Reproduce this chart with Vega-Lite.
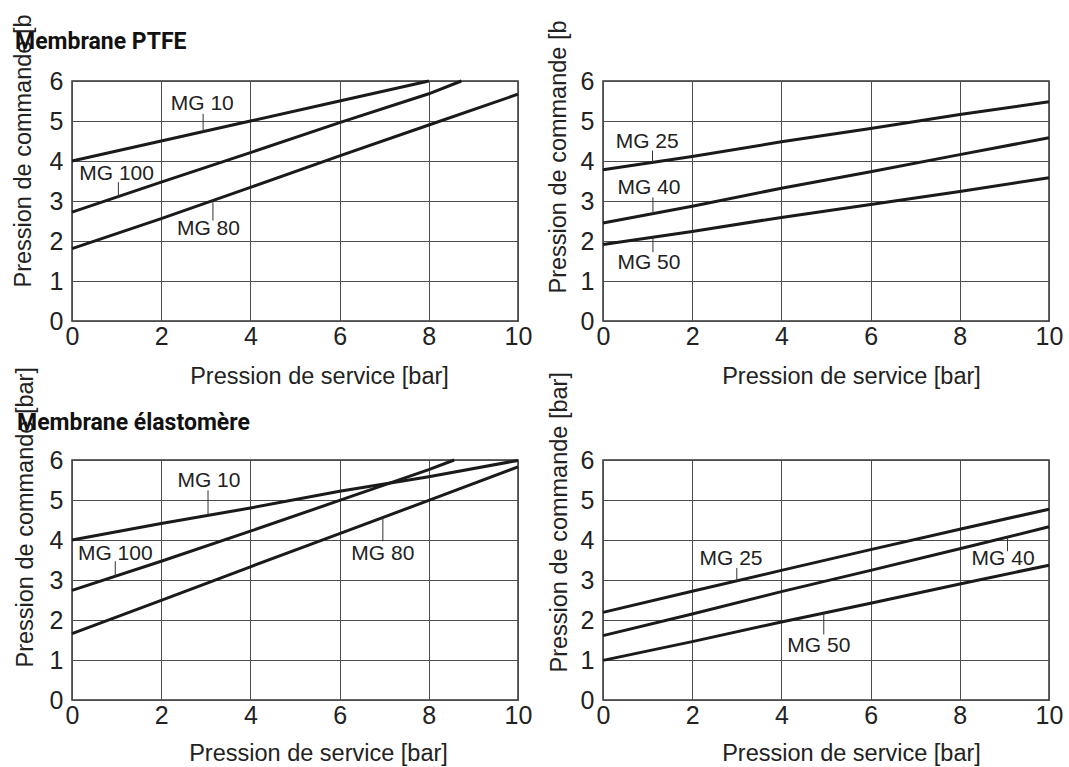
{
  "$schema": "https://vega.github.io/schema/vega-lite/v6.json",
  "background": "white",
  "padding": {"left": 10, "top": 6, "right": 5, "bottom": 2},
  "config": {
    "view": {"stroke": "#333", "strokeWidth": 1.5},
    "style": {"guide-title": {"ellipsis": " "}},
    "axis": {
      "domain": false, "ticks": false, "grid": true,
      "gridColor": "#4d4d4d", "gridWidth": 1, "gridOpacity": 1,
      "labelFont": "Liberation Sans", "labelFontSize": 25, "labelColor": "#222",
      "titleFont": "Liberation Sans", "titleFontSize": 23.5, "titleFontWeight": "normal", "titleColor": "#222",
      "labelFlush": false, "labelOverlap": false, "labelBound": false
    },
    "axisX": {"labelPadding": 3, "titleBaseline": "alphabetic", "titleAlign": "center"},
    "axisY": {"labelPadding": 9, "titleAlign": "left", "titleBaseline": "alphabetic", "titleAngle": -90}
  },
  "datasets": {
    "curves": [
      {"panel": "P1", "series": "MG 10", "x": 0, "y": 4.0},
      {"panel": "P1", "series": "MG 10", "x": 2, "y": 4.5},
      {"panel": "P1", "series": "MG 10", "x": 4, "y": 5.0},
      {"panel": "P1", "series": "MG 10", "x": 6, "y": 5.5},
      {"panel": "P1", "series": "MG 10", "x": 8, "y": 6.0},
      {"panel": "P1", "series": "MG 100", "x": 0, "y": 2.72},
      {"panel": "P1", "series": "MG 100", "x": 2, "y": 3.47},
      {"panel": "P1", "series": "MG 100", "x": 4, "y": 4.21},
      {"panel": "P1", "series": "MG 100", "x": 6, "y": 4.96},
      {"panel": "P1", "series": "MG 100", "x": 8, "y": 5.68},
      {"panel": "P1", "series": "MG 100", "x": 8.73, "y": 6.0},
      {"panel": "P1", "series": "MG 80", "x": 0, "y": 1.81},
      {"panel": "P1", "series": "MG 80", "x": 2, "y": 2.56},
      {"panel": "P1", "series": "MG 80", "x": 4, "y": 3.34},
      {"panel": "P1", "series": "MG 80", "x": 6, "y": 4.13},
      {"panel": "P1", "series": "MG 80", "x": 8, "y": 4.90},
      {"panel": "P1", "series": "MG 80", "x": 10, "y": 5.67},
      {"panel": "P2", "series": "MG 25", "x": 0, "y": 3.78},
      {"panel": "P2", "series": "MG 25", "x": 2, "y": 4.11},
      {"panel": "P2", "series": "MG 25", "x": 4, "y": 4.48},
      {"panel": "P2", "series": "MG 25", "x": 6, "y": 4.81},
      {"panel": "P2", "series": "MG 25", "x": 8, "y": 5.16},
      {"panel": "P2", "series": "MG 25", "x": 10, "y": 5.48},
      {"panel": "P2", "series": "MG 40", "x": 0, "y": 2.45},
      {"panel": "P2", "series": "MG 40", "x": 2, "y": 2.87},
      {"panel": "P2", "series": "MG 40", "x": 4, "y": 3.32},
      {"panel": "P2", "series": "MG 40", "x": 6, "y": 3.73},
      {"panel": "P2", "series": "MG 40", "x": 8, "y": 4.16},
      {"panel": "P2", "series": "MG 40", "x": 10, "y": 4.58},
      {"panel": "P2", "series": "MG 50", "x": 0, "y": 1.91},
      {"panel": "P2", "series": "MG 50", "x": 2, "y": 2.24},
      {"panel": "P2", "series": "MG 50", "x": 4, "y": 2.59},
      {"panel": "P2", "series": "MG 50", "x": 6, "y": 2.91},
      {"panel": "P2", "series": "MG 50", "x": 8, "y": 3.24},
      {"panel": "P2", "series": "MG 50", "x": 10, "y": 3.58},
      {"panel": "P3", "series": "MG 10", "x": 0, "y": 4.0},
      {"panel": "P3", "series": "MG 10", "x": 2, "y": 4.41},
      {"panel": "P3", "series": "MG 10", "x": 4, "y": 4.80},
      {"panel": "P3", "series": "MG 10", "x": 6, "y": 5.22},
      {"panel": "P3", "series": "MG 10", "x": 8, "y": 5.58},
      {"panel": "P3", "series": "MG 10", "x": 10, "y": 5.99},
      {"panel": "P3", "series": "MG 100", "x": 0, "y": 2.74},
      {"panel": "P3", "series": "MG 100", "x": 2, "y": 3.47},
      {"panel": "P3", "series": "MG 100", "x": 4, "y": 4.22},
      {"panel": "P3", "series": "MG 100", "x": 6, "y": 4.99},
      {"panel": "P3", "series": "MG 100", "x": 8, "y": 5.76},
      {"panel": "P3", "series": "MG 100", "x": 8.57, "y": 6.0},
      {"panel": "P3", "series": "MG 80", "x": 0, "y": 1.66},
      {"panel": "P3", "series": "MG 80", "x": 2, "y": 2.49},
      {"panel": "P3", "series": "MG 80", "x": 4, "y": 3.33},
      {"panel": "P3", "series": "MG 80", "x": 6, "y": 4.16},
      {"panel": "P3", "series": "MG 80", "x": 8, "y": 4.99},
      {"panel": "P3", "series": "MG 80", "x": 10, "y": 5.83},
      {"panel": "P4", "series": "MG 25", "x": 0, "y": 2.19},
      {"panel": "P4", "series": "MG 25", "x": 2, "y": 2.72},
      {"panel": "P4", "series": "MG 25", "x": 4, "y": 3.24},
      {"panel": "P4", "series": "MG 25", "x": 6, "y": 3.76},
      {"panel": "P4", "series": "MG 25", "x": 8, "y": 4.27},
      {"panel": "P4", "series": "MG 25", "x": 10, "y": 4.77},
      {"panel": "P4", "series": "MG 40", "x": 0, "y": 1.61},
      {"panel": "P4", "series": "MG 40", "x": 2, "y": 2.15},
      {"panel": "P4", "series": "MG 40", "x": 4, "y": 2.71},
      {"panel": "P4", "series": "MG 40", "x": 6, "y": 3.24},
      {"panel": "P4", "series": "MG 40", "x": 8, "y": 3.78},
      {"panel": "P4", "series": "MG 40", "x": 10, "y": 4.33},
      {"panel": "P4", "series": "MG 50", "x": 0, "y": 0.99},
      {"panel": "P4", "series": "MG 50", "x": 2, "y": 1.46},
      {"panel": "P4", "series": "MG 50", "x": 4, "y": 1.95},
      {"panel": "P4", "series": "MG 50", "x": 6, "y": 2.42},
      {"panel": "P4", "series": "MG 50", "x": 8, "y": 2.90},
      {"panel": "P4", "series": "MG 50", "x": 10, "y": 3.37}
    ],
    "leaders": [
      {"panel": "P1", "series": "MG 10", "x": 2.94, "y": 4.73, "y2": 5.18},
      {"panel": "P1", "series": "MG 100", "x": 1.04, "y": 3.1, "y2": 3.47},
      {"panel": "P1", "series": "MG 80", "x": 3.16, "y": 2.51, "y2": 3.04},
      {"panel": "P2", "series": "MG 25", "x": 1.11, "y": 3.97, "y2": 4.26},
      {"panel": "P2", "series": "MG 40", "x": 1.12, "y": 2.69, "y2": 3.09},
      {"panel": "P2", "series": "MG 50", "x": 1.12, "y": 1.72, "y2": 2.09},
      {"panel": "P3", "series": "MG 10", "x": 3.05, "y": 4.62, "y2": 5.24},
      {"panel": "P3", "series": "MG 100", "x": 0.97, "y": 3.09, "y2": 3.47},
      {"panel": "P3", "series": "MG 80", "x": 6.97, "y": 3.97, "y2": 4.56},
      {"panel": "P4", "series": "MG 25", "x": 3.0, "y": 2.98, "y2": 3.30},
      {"panel": "P4", "series": "MG 40", "x": 9.07, "y": 3.72, "y2": 4.07},
      {"panel": "P4", "series": "MG 50", "x": 4.95, "y": 1.64, "y2": 2.17}
    ],
    "labels": [
      {"panel": "P1", "series": "MG 10", "x": 2.92, "y": 5.43},
      {"panel": "P1", "series": "MG 100", "x": 1.0, "y": 3.67},
      {"panel": "P1", "series": "MG 80", "x": 3.06, "y": 2.30},
      {"panel": "P2", "series": "MG 25", "x": 0.99, "y": 4.48},
      {"panel": "P2", "series": "MG 40", "x": 1.03, "y": 3.32},
      {"panel": "P2", "series": "MG 50", "x": 1.03, "y": 1.45},
      {"panel": "P3", "series": "MG 10", "x": 3.07, "y": 5.47},
      {"panel": "P3", "series": "MG 100", "x": 0.97, "y": 3.64},
      {"panel": "P3", "series": "MG 80", "x": 6.97, "y": 3.64},
      {"panel": "P4", "series": "MG 25", "x": 2.87, "y": 3.52},
      {"panel": "P4", "series": "MG 40", "x": 8.97, "y": 3.52},
      {"panel": "P4", "series": "MG 50", "x": 4.84, "y": 1.35}
    ]
  },
  "columns": 2,
  "spacing": {"row": 139, "column": 85},
  "bounds": "flush",
  "concat": [
    {
      "width": 446, "height": 240,
      "title": {"text": "Membrane PTFE", "anchor": "start", "frame": "bounds", "offset": -47, "dx": 4, "font": "Roboto", "fontSize": 23, "fontWeight": "bold", "color": "#111"},
      "encoding": {
        "x": {"field": "x", "type": "quantitative", "scale": {"domain": [0, 10], "nice": false}, "axis": {"title": "Pression de service [bar]", "values": [0, 2, 4, 6, 8, 10], "titleX": 247, "titleY": 62}},
        "y": {"field": "y", "type": "quantitative", "scale": {"domain": [0, 6], "nice": false}, "axis": {"title": "Pression de commande [bar]", "values": [0, 1, 2, 3, 4, 5, 6], "titleX": -42, "titleY": 206, "titleLimit": 281}}
      },
      "layer": [
        {"data": {"name": "curves"}, "transform": [{"filter": "datum.panel === 'P1'"}], "mark": {"type": "line", "color": "#1a1a1a", "strokeWidth": 3}, "encoding": {"detail": {"field": "series"}}},
        {"data": {"name": "leaders"}, "transform": [{"filter": "datum.panel === 'P1'"}], "mark": {"type": "rule", "color": "#333", "strokeWidth": 1}, "encoding": {"y2": {"field": "y2"}}},
        {"data": {"name": "labels"}, "transform": [{"filter": "datum.panel === 'P1'"}], "mark": {"type": "text", "font": "Liberation Sans", "fontSize": 21, "color": "#222"}, "encoding": {"text": {"field": "series"}}}
      ]
    },
    {
      "width": 446, "height": 240,
      "encoding": {
        "x": {"field": "x", "type": "quantitative", "scale": {"domain": [0, 10], "nice": false}, "axis": {"title": "Pression de service [bar]", "values": [0, 2, 4, 6, 8, 10], "titleX": 248, "titleY": 62}},
        "y": {"field": "y", "type": "quantitative", "scale": {"domain": [0, 6], "nice": false}, "axis": {"title": "Pression de commande [bar]", "values": [0, 1, 2, 3, 4, 5, 6], "titleX": -38, "titleY": 212, "titleLimit": 282}}
      },
      "layer": [
        {"data": {"name": "curves"}, "transform": [{"filter": "datum.panel === 'P2'"}], "mark": {"type": "line", "color": "#1a1a1a", "strokeWidth": 3}, "encoding": {"detail": {"field": "series"}}},
        {"data": {"name": "leaders"}, "transform": [{"filter": "datum.panel === 'P2'"}], "mark": {"type": "rule", "color": "#333", "strokeWidth": 1}, "encoding": {"y2": {"field": "y2"}}},
        {"data": {"name": "labels"}, "transform": [{"filter": "datum.panel === 'P2'"}], "mark": {"type": "text", "font": "Liberation Sans", "fontSize": 21, "color": "#222"}, "encoding": {"text": {"field": "series"}}}
      ]
    },
    {
      "width": 446, "height": 240,
      "title": {"text": "Membrane élastomère", "anchor": "start", "frame": "bounds", "offset": -68, "dx": 4, "font": "Roboto", "fontSize": 23, "fontWeight": "bold", "color": "#111"},
      "encoding": {
        "x": {"field": "x", "type": "quantitative", "scale": {"domain": [0, 10], "nice": false}, "axis": {"title": "Pression de service [bar]", "values": [0, 2, 4, 6, 8, 10], "titleX": 246, "titleY": 60}},
        "y": {"field": "y", "type": "quantitative", "scale": {"domain": [0, 6], "nice": false}, "axis": {"title": "Pression de commande [bar]", "values": [0, 1, 2, 3, 4, 5, 6], "titleX": -40, "titleY": 207}}
      },
      "layer": [
        {"data": {"name": "curves"}, "transform": [{"filter": "datum.panel === 'P3'"}], "mark": {"type": "line", "color": "#1a1a1a", "strokeWidth": 3}, "encoding": {"detail": {"field": "series"}}},
        {"data": {"name": "leaders"}, "transform": [{"filter": "datum.panel === 'P3'"}], "mark": {"type": "rule", "color": "#333", "strokeWidth": 1}, "encoding": {"y2": {"field": "y2"}}},
        {"data": {"name": "labels"}, "transform": [{"filter": "datum.panel === 'P3'"}], "mark": {"type": "text", "font": "Liberation Sans", "fontSize": 21, "color": "#222"}, "encoding": {"text": {"field": "series"}}}
      ]
    },
    {
      "width": 446, "height": 240,
      "encoding": {
        "x": {"field": "x", "type": "quantitative", "scale": {"domain": [0, 10], "nice": false}, "axis": {"title": "Pression de service [bar]", "values": [0, 2, 4, 6, 8, 10], "titleX": 248, "titleY": 60}},
        "y": {"field": "y", "type": "quantitative", "scale": {"domain": [0, 6], "nice": false}, "axis": {"title": "Pression de commande [bar]", "values": [0, 1, 2, 3, 4, 5, 6], "titleX": -37, "titleY": 212}}
      },
      "layer": [
        {"data": {"name": "curves"}, "transform": [{"filter": "datum.panel === 'P4'"}], "mark": {"type": "line", "color": "#1a1a1a", "strokeWidth": 3}, "encoding": {"detail": {"field": "series"}}},
        {"data": {"name": "leaders"}, "transform": [{"filter": "datum.panel === 'P4'"}], "mark": {"type": "rule", "color": "#333", "strokeWidth": 1}, "encoding": {"y2": {"field": "y2"}}},
        {"data": {"name": "labels"}, "transform": [{"filter": "datum.panel === 'P4'"}], "mark": {"type": "text", "font": "Liberation Sans", "fontSize": 21, "color": "#222"}, "encoding": {"text": {"field": "series"}}}
      ]
    }
  ]
}
